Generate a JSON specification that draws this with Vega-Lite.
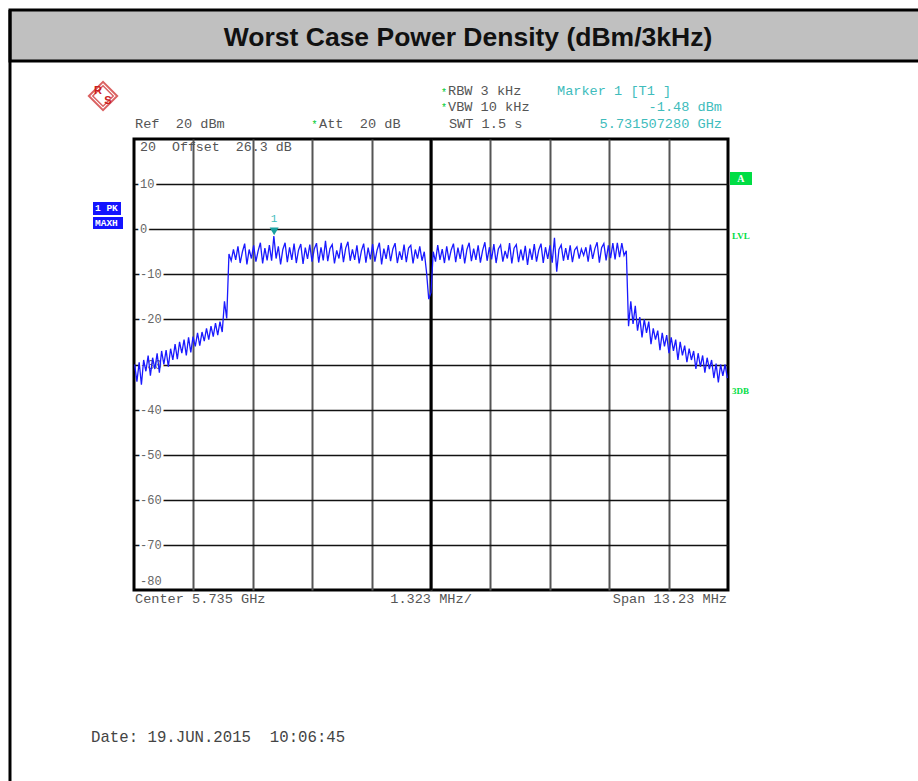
{
  "$schema": "https://vega.github.io/schema/vega-lite/v6.json",
  "width": 594,
  "height": 451,
  "autosize": {"type": "none"},
  "padding": {"left": 134, "top": 139, "right": 190, "bottom": 191},
  "background": "white",
  "config": {"view": {"stroke": "black", "strokeWidth": 3}},
  "data": {"values": [{}]},
  "datasets": {
    "ylab": [
      {"v": 10, "t": "10"}, {"v": 0, "t": "0"}, {"v": -10, "t": "-10"}, {"v": -20, "t": "-20"},
      {"v": -30, "t": "-30"}, {"v": -40, "t": "-40"}, {"v": -50, "t": "-50"}, {"v": -60, "t": "-60"},
      {"v": -70, "t": "-70"}
    ],
    "trace": [
      {"f": -6.60, "p": -30.0}, {"f": -6.55, "p": -33.8}, {"f": -6.50, "p": -29.5}, {"f": -6.45, "p": -34.5},
      {"f": -6.40, "p": -29.0}, {"f": -6.35, "p": -31.5}, {"f": -6.30, "p": -28.0}, {"f": -6.25, "p": -32.5},
      {"f": -6.20, "p": -28.5}, {"f": -6.15, "p": -31.0}, {"f": -6.10, "p": -27.5}, {"f": -6.05, "p": -31.8},
      {"f": -6.00, "p": -27.0}, {"f": -5.95, "p": -30.0}, {"f": -5.90, "p": -26.8}, {"f": -5.85, "p": -30.5},
      {"f": -5.80, "p": -26.5}, {"f": -5.75, "p": -29.0}, {"f": -5.70, "p": -25.5}, {"f": -5.65, "p": -28.8},
      {"f": -5.60, "p": -25.0}, {"f": -5.55, "p": -27.5}, {"f": -5.50, "p": -24.5}, {"f": -5.45, "p": -28.0},
      {"f": -5.40, "p": -24.0}, {"f": -5.35, "p": -27.3}, {"f": -5.30, "p": -23.8}, {"f": -5.25, "p": -26.0},
      {"f": -5.20, "p": -23.0}, {"f": -5.15, "p": -25.8}, {"f": -5.10, "p": -22.8}, {"f": -5.05, "p": -24.8},
      {"f": -5.00, "p": -22.0}, {"f": -4.95, "p": -24.5}, {"f": -4.90, "p": -21.5}, {"f": -4.85, "p": -23.8},
      {"f": -4.80, "p": -20.8}, {"f": -4.75, "p": -23.5}, {"f": -4.70, "p": -20.5}, {"f": -4.65, "p": -22.8},
      {"f": -4.60, "p": -16.0}, {"f": -4.55, "p": -19.8}, {"f": -4.50, "p": -5.5}, {"f": -4.45, "p": -7.0},
      {"f": -4.40, "p": -4.5}, {"f": -4.35, "p": -6.8}, {"f": -4.30, "p": -3.8}, {"f": -4.25, "p": -7.5},
      {"f": -4.20, "p": -5.0}, {"f": -4.15, "p": -3.2}, {"f": -4.10, "p": -7.8}, {"f": -4.05, "p": -4.5},
      {"f": -4.00, "p": -6.5}, {"f": -3.95, "p": -3.6}, {"f": -3.90, "p": -7.2}, {"f": -3.85, "p": -4.8},
      {"f": -3.80, "p": -3.0}, {"f": -3.75, "p": -7.6}, {"f": -3.70, "p": -4.2}, {"f": -3.65, "p": -6.9},
      {"f": -3.60, "p": -3.5}, {"f": -3.55, "p": -7.0}, {"f": -3.50, "p": -1.5}, {"f": -3.45, "p": -6.5},
      {"f": -3.40, "p": -3.8}, {"f": -3.35, "p": -7.8}, {"f": -3.30, "p": -4.5}, {"f": -3.25, "p": -3.0},
      {"f": -3.20, "p": -7.3}, {"f": -3.15, "p": -4.0}, {"f": -3.10, "p": -6.8}, {"f": -3.05, "p": -3.2},
      {"f": -3.00, "p": -7.5}, {"f": -2.95, "p": -4.6}, {"f": -2.90, "p": -3.3}, {"f": -2.85, "p": -7.7},
      {"f": -2.80, "p": -4.1}, {"f": -2.75, "p": -6.6}, {"f": -2.70, "p": -3.4}, {"f": -2.65, "p": -7.2},
      {"f": -2.60, "p": -4.4}, {"f": -2.55, "p": -3.1}, {"f": -2.50, "p": -7.4}, {"f": -2.45, "p": -4.0},
      {"f": -2.40, "p": -6.9}, {"f": -2.35, "p": -2.6}, {"f": -2.30, "p": -7.1}, {"f": -2.25, "p": -4.3},
      {"f": -2.20, "p": -3.4}, {"f": -2.15, "p": -7.6}, {"f": -2.10, "p": -4.7}, {"f": -2.05, "p": -6.5},
      {"f": -2.00, "p": -3.0}, {"f": -1.95, "p": -7.3}, {"f": -1.90, "p": -4.2}, {"f": -1.85, "p": -2.8},
      {"f": -1.80, "p": -7.0}, {"f": -1.75, "p": -4.5}, {"f": -1.70, "p": -6.8}, {"f": -1.65, "p": -3.6},
      {"f": -1.60, "p": -7.6}, {"f": -1.55, "p": -4.8}, {"f": -1.50, "p": -3.2}, {"f": -1.45, "p": -7.4},
      {"f": -1.40, "p": -4.1}, {"f": -1.35, "p": -6.7}, {"f": -1.30, "p": -3.3}, {"f": -1.25, "p": -7.2},
      {"f": -1.20, "p": -4.6}, {"f": -1.15, "p": -3.0}, {"f": -1.10, "p": -7.8}, {"f": -1.05, "p": -4.3},
      {"f": -1.00, "p": -6.6}, {"f": -0.95, "p": -3.5}, {"f": -0.90, "p": -7.1}, {"f": -0.85, "p": -4.4},
      {"f": -0.80, "p": -3.1}, {"f": -0.75, "p": -7.5}, {"f": -0.70, "p": -4.9}, {"f": -0.65, "p": -6.8},
      {"f": -0.60, "p": -3.4}, {"f": -0.55, "p": -7.3}, {"f": -0.50, "p": -4.2}, {"f": -0.45, "p": -3.6},
      {"f": -0.40, "p": -7.6}, {"f": -0.35, "p": -4.5}, {"f": -0.30, "p": -6.5}, {"f": -0.25, "p": -3.8},
      {"f": -0.20, "p": -7.0}, {"f": -0.15, "p": -5.0}, {"f": -0.10, "p": -9.5}, {"f": -0.05, "p": -15.5},
      {"f": 0.00, "p": -14.0}, {"f": 0.05, "p": -5.0}, {"f": 0.10, "p": -7.2}, {"f": 0.15, "p": -3.5},
      {"f": 0.20, "p": -6.8}, {"f": 0.25, "p": -4.4}, {"f": 0.30, "p": -7.5}, {"f": 0.35, "p": -3.8},
      {"f": 0.40, "p": -6.9}, {"f": 0.45, "p": -4.6}, {"f": 0.50, "p": -3.2}, {"f": 0.55, "p": -7.3},
      {"f": 0.60, "p": -4.1}, {"f": 0.65, "p": -6.6}, {"f": 0.70, "p": -3.4}, {"f": 0.75, "p": -7.6},
      {"f": 0.80, "p": -4.5}, {"f": 0.85, "p": -3.0}, {"f": 0.90, "p": -7.1}, {"f": 0.95, "p": -4.3},
      {"f": 1.00, "p": -6.8}, {"f": 1.05, "p": -3.6}, {"f": 1.10, "p": -7.4}, {"f": 1.15, "p": -4.7},
      {"f": 1.20, "p": -2.9}, {"f": 1.25, "p": -7.0}, {"f": 1.30, "p": -4.0}, {"f": 1.35, "p": -6.7},
      {"f": 1.40, "p": -3.3}, {"f": 1.45, "p": -7.5}, {"f": 1.50, "p": -4.4}, {"f": 1.55, "p": -3.5},
      {"f": 1.60, "p": -7.2}, {"f": 1.65, "p": -4.8}, {"f": 1.70, "p": -6.5}, {"f": 1.75, "p": -3.1},
      {"f": 1.80, "p": -7.6}, {"f": 1.85, "p": -4.2}, {"f": 1.90, "p": -3.4}, {"f": 1.95, "p": -7.3},
      {"f": 2.00, "p": -4.5}, {"f": 2.05, "p": -6.9}, {"f": 2.10, "p": -3.7}, {"f": 2.15, "p": -7.9},
      {"f": 2.20, "p": -4.3}, {"f": 2.25, "p": -6.8}, {"f": 2.30, "p": -3.3}, {"f": 2.35, "p": -7.2},
      {"f": 2.40, "p": -4.6}, {"f": 2.45, "p": -3.2}, {"f": 2.50, "p": -7.5}, {"f": 2.55, "p": -4.0},
      {"f": 2.60, "p": -6.6}, {"f": 2.65, "p": -3.6}, {"f": 2.70, "p": -7.4}, {"f": 2.75, "p": -1.9},
      {"f": 2.80, "p": -9.4}, {"f": 2.85, "p": -4.5}, {"f": 2.90, "p": -3.5}, {"f": 2.95, "p": -7.0},
      {"f": 3.00, "p": -4.2}, {"f": 3.05, "p": -6.8}, {"f": 3.10, "p": -3.6}, {"f": 3.15, "p": -7.3},
      {"f": 3.20, "p": -4.6}, {"f": 3.25, "p": -3.9}, {"f": 3.30, "p": -6.5}, {"f": 3.35, "p": -4.4},
      {"f": 3.40, "p": -5.8}, {"f": 3.45, "p": -4.0}, {"f": 3.50, "p": -7.2}, {"f": 3.55, "p": -3.4},
      {"f": 3.60, "p": -6.6}, {"f": 3.65, "p": -4.3}, {"f": 3.70, "p": -2.9}, {"f": 3.75, "p": -7.4},
      {"f": 3.80, "p": -4.1}, {"f": 3.85, "p": -3.2}, {"f": 3.90, "p": -6.9}, {"f": 3.95, "p": -3.6},
      {"f": 4.00, "p": -6.4}, {"f": 4.05, "p": -3.1}, {"f": 4.10, "p": -6.7}, {"f": 4.15, "p": -3.0},
      {"f": 4.20, "p": -6.2}, {"f": 4.25, "p": -3.1}, {"f": 4.30, "p": -5.8}, {"f": 4.35, "p": -4.8},
      {"f": 4.40, "p": -21.5}, {"f": 4.45, "p": -16.0}, {"f": 4.50, "p": -21.0}, {"f": 4.55, "p": -17.0},
      {"f": 4.60, "p": -22.5}, {"f": 4.65, "p": -19.5}, {"f": 4.70, "p": -24.0}, {"f": 4.75, "p": -20.0},
      {"f": 4.80, "p": -23.0}, {"f": 4.85, "p": -20.5}, {"f": 4.90, "p": -25.5}, {"f": 4.95, "p": -22.0},
      {"f": 5.00, "p": -24.5}, {"f": 5.05, "p": -22.5}, {"f": 5.10, "p": -26.8}, {"f": 5.15, "p": -23.0},
      {"f": 5.20, "p": -26.0}, {"f": 5.25, "p": -23.5}, {"f": 5.30, "p": -27.5}, {"f": 5.35, "p": -24.0},
      {"f": 5.40, "p": -27.0}, {"f": 5.45, "p": -24.5}, {"f": 5.50, "p": -29.0}, {"f": 5.55, "p": -25.0},
      {"f": 5.60, "p": -28.0}, {"f": 5.65, "p": -25.8}, {"f": 5.70, "p": -29.5}, {"f": 5.75, "p": -26.5},
      {"f": 5.80, "p": -29.0}, {"f": 5.85, "p": -27.0}, {"f": 5.90, "p": -31.0}, {"f": 5.95, "p": -27.5},
      {"f": 6.00, "p": -30.5}, {"f": 6.05, "p": -28.0}, {"f": 6.10, "p": -31.8}, {"f": 6.15, "p": -28.5},
      {"f": 6.20, "p": -31.0}, {"f": 6.25, "p": -29.0}, {"f": 6.30, "p": -33.0}, {"f": 6.35, "p": -29.8},
      {"f": 6.40, "p": -34.0}, {"f": 6.45, "p": -30.0}, {"f": 6.50, "p": -32.5}, {"f": 6.55, "p": -30.0},
      {"f": 6.60, "p": -33.0}
    ]
  },
  "layer": [
    {
      "mark": {"type": "rect", "fill": "#c0c0c0", "stroke": "black", "strokeWidth": 3},
      "encoding": {
        "x": {"datum": -9.377, "type": "quantitative", "scale": {"domain": [-6.615, 6.615], "nice": false, "zero": false},
          "axis": {"values": [-5.292, -3.969, -2.646, -1.323, 0, 1.323, 2.646, 3.969, 5.292], "grid": true, "gridColor": "#555", "gridWidth": 2, "labels": false, "ticks": false, "domain": false, "title": null}},
        "x2": {"datum": 11.5},
        "y": {"datum": 48.6, "type": "quantitative", "scale": {"domain": [-80, 20], "nice": false, "zero": false},
          "axis": {"values": [-70, -60, -50, -40, -30, -20, -10, 0, 10], "grid": true, "gridColor": "#111", "gridWidth": 1.5, "labels": false, "ticks": false, "domain": false, "title": null}},
        "y2": {"datum": 37.3}
      }
    },
    {
      "mark": {"type": "rule", "color": "black", "strokeWidth": 3},
      "encoding": {
        "x": {"datum": -9.377, "type": "quantitative"},
        "y": {"datum": 48.6, "type": "quantitative"},
        "y2": {"datum": -130}
      }
    },
    {
      "mark": {"type": "text", "text": "Worst Case Power Density (dBm/3kHz)", "font": "Liberation Sans", "fontWeight": "bold", "fontSize": 26.5, "color": "#111", "align": "center", "baseline": "middle"},
      "encoding": {"x": {"datum": 0.824, "type": "quantitative"}, "y": {"datum": 42.4, "type": "quantitative"}}
    },
    {
      "mark": {"type": "point", "shape": "diamond", "size": 800, "filled": false, "stroke": "#cc2020", "strokeWidth": 2},
      "encoding": {"x": {"datum": -7.305, "type": "quantitative"}, "y": {"datum": 29.53, "type": "quantitative"}}
    },
    {
      "mark": {"type": "point", "shape": "diamond", "size": 420, "filled": false, "stroke": "#cc2020", "strokeWidth": 1.5},
      "encoding": {"x": {"datum": -7.305, "type": "quantitative"}, "y": {"datum": 29.53, "type": "quantitative"}}
    },
    {
      "mark": {"type": "text", "text": "R", "font": "Liberation Sans", "fontWeight": "bold", "fontSize": 11, "color": "#cc2020", "align": "center", "baseline": "middle"},
      "encoding": {"x": {"datum": -7.417, "type": "quantitative"}, "y": {"datum": 30.64, "type": "quantitative"}}
    },
    {
      "mark": {"type": "text", "text": "S", "font": "Liberation Sans", "fontWeight": "bold", "fontSize": 11, "color": "#cc2020", "align": "center", "baseline": "middle"},
      "encoding": {"x": {"datum": -7.194, "type": "quantitative"}, "y": {"datum": 28.43, "type": "quantitative"}}
    },
    {
      "mark": {"type": "text", "text": "Ref\u00a0\u00a020 dBm", "font": "Liberation Mono", "fontSize": 13.6, "color": "#555", "align": "left", "baseline": "middle"},
      "encoding": {"x": {"datum": -6.593, "type": "quantitative"}, "y": {"datum": 23.33, "type": "quantitative"}}
    },
    {
      "mark": {"type": "text", "text": "*", "font": "Liberation Mono", "fontSize": 10, "color": "#00cc33", "align": "left", "baseline": "middle"},
      "encoding": {"x": {"datum": -2.66, "type": "quantitative"}, "y": {"datum": 23.0, "type": "quantitative"}}
    },
    {
      "mark": {"type": "text", "text": "Att\u00a0\u00a020 dB", "font": "Liberation Mono", "fontSize": 13.6, "color": "#555", "align": "left", "baseline": "middle"},
      "encoding": {"x": {"datum": -2.495, "type": "quantitative"}, "y": {"datum": 23.33, "type": "quantitative"}}
    },
    {
      "mark": {"type": "text", "text": "*", "font": "Liberation Mono", "fontSize": 10, "color": "#00cc33", "align": "left", "baseline": "middle"},
      "encoding": {"x": {"datum": 0.222, "type": "quantitative"}, "y": {"datum": 30.3, "type": "quantitative"}}
    },
    {
      "mark": {"type": "text", "text": "RBW 3 kHz", "font": "Liberation Mono", "fontSize": 13.6, "color": "#555", "align": "left", "baseline": "middle"},
      "encoding": {"x": {"datum": 0.378, "type": "quantitative"}, "y": {"datum": 30.64, "type": "quantitative"}}
    },
    {
      "mark": {"type": "text", "text": "*", "font": "Liberation Mono", "fontSize": 10, "color": "#00cc33", "align": "left", "baseline": "middle"},
      "encoding": {"x": {"datum": 0.222, "type": "quantitative"}, "y": {"datum": 26.8, "type": "quantitative"}}
    },
    {
      "mark": {"type": "text", "text": "VBW 10 kHz", "font": "Liberation Mono", "fontSize": 13.6, "color": "#555", "align": "left", "baseline": "middle"},
      "encoding": {"x": {"datum": 0.378, "type": "quantitative"}, "y": {"datum": 27.1, "type": "quantitative"}}
    },
    {
      "mark": {"type": "text", "text": "SWT 1.5 s", "font": "Liberation Mono", "fontSize": 13.6, "color": "#555", "align": "left", "baseline": "middle"},
      "encoding": {"x": {"datum": 0.4, "type": "quantitative"}, "y": {"datum": 23.33, "type": "quantitative"}}
    },
    {
      "mark": {"type": "text", "text": "Marker 1 [T1 ]", "font": "Liberation Mono", "fontSize": 13.6, "color": "#40bcbc", "align": "left", "baseline": "middle"},
      "encoding": {"x": {"datum": 2.806, "type": "quantitative"}, "y": {"datum": 30.64, "type": "quantitative"}}
    },
    {
      "mark": {"type": "text", "text": "-1.48 dBm", "font": "Liberation Mono", "fontSize": 13.6, "color": "#40bcbc", "align": "right", "baseline": "middle"},
      "encoding": {"x": {"datum": 6.481, "type": "quantitative"}, "y": {"datum": 27.1, "type": "quantitative"}}
    },
    {
      "mark": {"type": "text", "text": "5.731507280 GHz", "font": "Liberation Mono", "fontSize": 13.6, "color": "#40bcbc", "align": "right", "baseline": "middle"},
      "encoding": {"x": {"datum": 6.481, "type": "quantitative"}, "y": {"datum": 23.33, "type": "quantitative"}}
    },
    {
      "mark": {"type": "rule", "color": "black", "strokeWidth": 3},
      "encoding": {"x": {"datum": 0, "type": "quantitative"}}
    },
    {
      "data": {"name": "ylab"},
      "mark": {"type": "text", "font": "Liberation Mono", "fontSize": 12, "color": "white", "stroke": "white", "strokeWidth": 5, "align": "left", "baseline": "middle"},
      "encoding": {"x": {"datum": -6.481, "type": "quantitative"}, "y": {"field": "v", "type": "quantitative"}, "text": {"field": "t"}}
    },
    {
      "data": {"name": "ylab"},
      "mark": {"type": "text", "font": "Liberation Mono", "fontSize": 12, "color": "#666", "align": "left", "baseline": "middle"},
      "encoding": {"x": {"datum": -6.481, "type": "quantitative"}, "y": {"field": "v", "type": "quantitative"}, "text": {"field": "t"}}
    },
    {
      "mark": {"type": "text", "text": "-80", "font": "Liberation Mono", "fontSize": 12, "color": "#666", "align": "left", "baseline": "middle"},
      "encoding": {"x": {"datum": -6.481, "type": "quantitative"}, "y": {"datum": -78.0, "type": "quantitative"}}
    },
    {
      "mark": {"type": "text", "text": "20\u00a0\u00a0Offset\u00a0\u00a026.3 dB", "font": "Liberation Mono", "fontSize": 13.3, "color": "#555", "align": "left", "baseline": "middle"},
      "encoding": {"x": {"datum": -6.481, "type": "quantitative"}, "y": {"datum": 18.23, "type": "quantitative"}}
    },
    {
      "data": {"name": "trace"},
      "mark": {"type": "line", "color": "#1a1aff", "strokeWidth": 1.3, "interpolate": "linear"},
      "encoding": {
        "x": {"field": "f", "type": "quantitative"},
        "y": {"field": "p", "type": "quantitative"}
      }
    },
    {
      "mark": {"type": "point", "shape": "triangle-down", "size": 80, "filled": true, "color": "#1aa0a0", "opacity": 1},
      "encoding": {"x": {"datum": -3.493, "type": "quantitative"}, "y": {"datum": -0.5, "type": "quantitative"}}
    },
    {
      "mark": {"type": "text", "text": "1", "font": "Liberation Mono", "fontSize": 11, "color": "#40bcbc", "align": "center", "baseline": "middle"},
      "encoding": {"x": {"datum": -3.493, "type": "quantitative"}, "y": {"datum": 2.26, "type": "quantitative"}}
    },
    {
      "mark": {"type": "rect", "fill": "#1414ff"},
      "encoding": {"x": {"datum": -7.528, "type": "quantitative"}, "x2": {"datum": -6.905}, "y": {"datum": 6.03, "type": "quantitative"}, "y2": {"datum": 3.15}}
    },
    {
      "mark": {"type": "rect", "fill": "#1414ff"},
      "encoding": {"x": {"datum": -7.528, "type": "quantitative"}, "x2": {"datum": -6.86}, "y": {"datum": 2.7, "type": "quantitative"}, "y2": {"datum": 0.04}}
    },
    {
      "mark": {"type": "text", "text": "1 PK", "font": "Liberation Mono", "fontWeight": "bold", "fontSize": 9.5, "color": "white", "align": "left", "baseline": "middle"},
      "encoding": {"x": {"datum": -7.484, "type": "quantitative"}, "y": {"datum": 4.59, "type": "quantitative"}}
    },
    {
      "mark": {"type": "text", "text": "MAXH", "font": "Liberation Mono", "fontWeight": "bold", "fontSize": 9.5, "color": "white", "align": "left", "baseline": "middle"},
      "encoding": {"x": {"datum": -7.484, "type": "quantitative"}, "y": {"datum": 1.37, "type": "quantitative"}}
    },
    {
      "mark": {"type": "rect", "fill": "#00dd44"},
      "encoding": {"x": {"datum": 6.659, "type": "quantitative"}, "x2": {"datum": 7.149}, "y": {"datum": 12.68, "type": "quantitative"}, "y2": {"datum": 9.8}}
    },
    {
      "mark": {"type": "text", "text": "A", "font": "Liberation Serif", "fontWeight": "bold", "fontSize": 10, "color": "white", "align": "center", "baseline": "middle"},
      "encoding": {"x": {"datum": 6.904, "type": "quantitative"}, "y": {"datum": 11.24, "type": "quantitative"}}
    },
    {
      "mark": {"type": "text", "text": "LVL", "font": "Liberation Serif", "fontWeight": "bold", "fontSize": 9, "color": "#00dd44", "align": "left", "baseline": "middle"},
      "encoding": {"x": {"datum": 6.703, "type": "quantitative"}, "y": {"datum": -1.51, "type": "quantitative"}}
    },
    {
      "mark": {"type": "text", "text": "3DB", "font": "Liberation Serif", "fontWeight": "bold", "fontSize": 9, "color": "#00dd44", "align": "left", "baseline": "middle"},
      "encoding": {"x": {"datum": 6.703, "type": "quantitative"}, "y": {"datum": -35.88, "type": "quantitative"}}
    },
    {
      "mark": {"type": "text", "text": "Center 5.735 GHz", "font": "Liberation Mono", "fontSize": 13.6, "color": "#555", "align": "left", "baseline": "middle"},
      "encoding": {"x": {"datum": -6.593, "type": "quantitative"}, "y": {"datum": -82.0, "type": "quantitative"}}
    },
    {
      "mark": {"type": "text", "text": "1.323 MHz/", "font": "Liberation Mono", "fontSize": 13.6, "color": "#555", "align": "center", "baseline": "middle"},
      "encoding": {"x": {"datum": 0.0, "type": "quantitative"}, "y": {"datum": -82.0, "type": "quantitative"}}
    },
    {
      "mark": {"type": "text", "text": "Span 13.23 MHz", "font": "Liberation Mono", "fontSize": 13.6, "color": "#555", "align": "right", "baseline": "middle"},
      "encoding": {"x": {"datum": 6.592, "type": "quantitative"}, "y": {"datum": -82.0, "type": "quantitative"}}
    },
    {
      "mark": {"type": "text", "text": "Date: 19.JUN.2015\u00a0\u00a010:06:45", "font": "Liberation Mono", "fontSize": 15.7, "color": "#444", "align": "left", "baseline": "middle"},
      "encoding": {"x": {"datum": -7.573, "type": "quantitative"}, "y": {"datum": -112.6, "type": "quantitative"}}
    }
  ]
}
